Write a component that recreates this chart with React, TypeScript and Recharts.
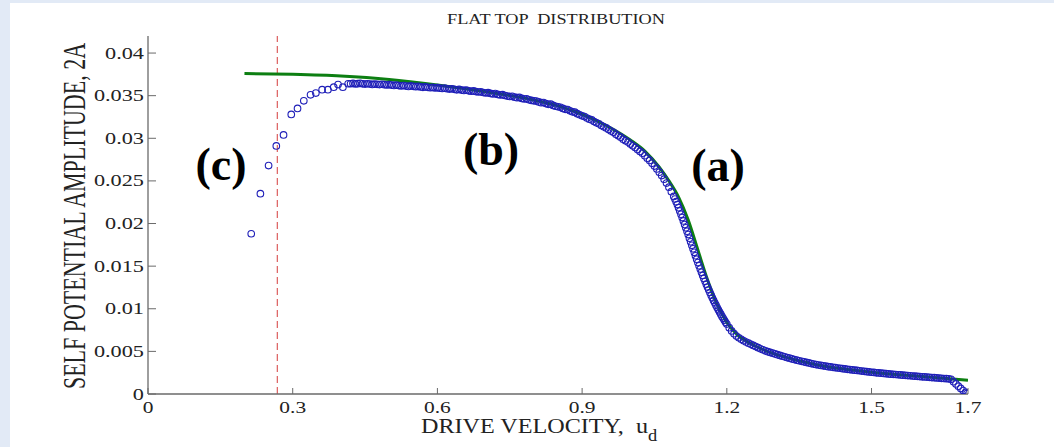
import React from 'react';
import { ComposedChart, XAxis, YAxis, Scatter, Line, ReferenceLine } from 'recharts';

// ---------- data ----------
const xTicks = [0, 0.3, 0.6, 0.9, 1.2, 1.5, 1.7];
const yTicks = [0, 0.005, 0.01, 0.015, 0.02, 0.025, 0.03, 0.035, 0.04];
const cutoffVelocity = 0.268;

// measured self potential amplitude (open circles) [u_d, 2A]
const measuredPoints: [number, number][] = [
  [0.214, 0.0188], [0.233, 0.0235], [0.25, 0.0268], [0.266, 0.0291], [0.281, 0.0304],
  [0.297, 0.0328], [0.31, 0.0335], [0.323, 0.0344], [0.337, 0.0351], [0.348, 0.0353],
  [0.361, 0.0357], [0.373, 0.0357], [0.385, 0.036], [0.394, 0.0363], [0.404, 0.036],
  [0.415, 0.0364],
  [0.42, 0.0364], [0.425, 0.03644], [0.43, 0.03637], [0.435, 0.03641], [0.44, 0.03645],
  [0.445, 0.03639], [0.45, 0.03636], [0.455, 0.0364], [0.46, 0.03637], [0.465, 0.03632],
  [0.47, 0.03636], [0.475, 0.03633], [0.48, 0.0363], [0.485, 0.03634], [0.49, 0.03629],
  [0.495, 0.03625], [0.5, 0.03629], [0.505, 0.03624], [0.51, 0.0362], [0.515, 0.03624],
  [0.52, 0.03618], [0.525, 0.03614], [0.53, 0.03619], [0.535, 0.03613], [0.54, 0.03609],
  [0.545, 0.03614], [0.55, 0.0361], [0.555, 0.03605], [0.56, 0.03609], [0.565, 0.03603],
  [0.57, 0.03598], [0.575, 0.03603], [0.58, 0.03598], [0.585, 0.03593], [0.59, 0.03597],
  [0.595, 0.03591], [0.6, 0.03594], [0.605, 0.03588], [0.61, 0.03584], [0.615, 0.03588],
  [0.62, 0.03581], [0.625, 0.03577], [0.63, 0.03581], [0.635, 0.03574], [0.64, 0.03569],
  [0.645, 0.03573], [0.65, 0.03566], [0.655, 0.03561], [0.66, 0.03565], [0.665, 0.03557],
  [0.67, 0.03552], [0.675, 0.03556], [0.68, 0.03548], [0.685, 0.03543], [0.69, 0.03546],
  [0.695, 0.03537], [0.7, 0.03531], [0.705, 0.03535], [0.71, 0.03526], [0.715, 0.0352],
  [0.72, 0.03524], [0.725, 0.03514], [0.73, 0.03508], [0.735, 0.03512], [0.74, 0.03502],
  [0.745, 0.03495], [0.75, 0.0349], [0.755, 0.03492], [0.76, 0.03482], [0.765, 0.03476],
  [0.77, 0.03479], [0.775, 0.03468], [0.78, 0.03461], [0.785, 0.03463], [0.79, 0.03452],
  [0.795, 0.03444], [0.8, 0.0344], [0.805, 0.03437], [0.81, 0.03426], [0.815, 0.03418],
  [0.82, 0.0342], [0.825, 0.03407], [0.83, 0.03398], [0.835, 0.034], [0.84, 0.03386],
  [0.845, 0.03376], [0.85, 0.0337], [0.855, 0.03364], [0.86, 0.0335], [0.865, 0.0334],
  [0.87, 0.03338], [0.875, 0.03322], [0.88, 0.0331], [0.885, 0.03306], [0.89, 0.03289],
  [0.895, 0.03276], [0.9, 0.03264], [0.905, 0.03255], [0.91, 0.03238], [0.915, 0.03224],
  [0.92, 0.03215], [0.925, 0.03196], [0.93, 0.03181], [0.935, 0.0317], [0.94, 0.0315],
  [0.945, 0.03134], [0.95, 0.03122], [0.955, 0.03102], [0.96, 0.03085], [0.965, 0.0307],
  [0.97, 0.03048], [0.975, 0.0303], [0.98, 0.03013], [0.985, 0.0299], [0.99, 0.02972],
  [0.995, 0.02955], [1.0, 0.02932], [1.005, 0.02912], [1.01, 0.02893], [1.015, 0.02868],
  [1.02, 0.02846], [1.025, 0.02825], [1.03, 0.02795], [1.035, 0.02766], [1.04, 0.0274],
  [1.045, 0.02706], [1.05, 0.02674], [1.055, 0.0264], [1.06, 0.02602], [1.065, 0.02562],
  [1.07, 0.0252], [1.075, 0.02474], [1.08, 0.02426], [1.085, 0.02374], [1.09, 0.02318],
  [1.0925, 0.02288], [1.095, 0.02256], [1.0975, 0.02222], [1.1, 0.02186], [1.1025, 0.02148],
  [1.105, 0.0211], [1.1075, 0.0207], [1.11, 0.0203], [1.1125, 0.0199], [1.115, 0.0195],
  [1.1175, 0.0191], [1.12, 0.0187], [1.1225, 0.01828], [1.125, 0.01785], [1.1275, 0.01744],
  [1.13, 0.01703], [1.1325, 0.01662], [1.135, 0.01622], [1.1375, 0.01582], [1.14, 0.01542],
  [1.1425, 0.01504], [1.145, 0.01466], [1.1475, 0.01428], [1.15, 0.0139], [1.1525, 0.01356],
  [1.155, 0.01322], [1.1575, 0.01288], [1.16, 0.01255], [1.1625, 0.01223], [1.165, 0.01191],
  [1.1675, 0.01159], [1.17, 0.01128], [1.1725, 0.01098], [1.175, 0.0107], [1.1775, 0.01042],
  [1.18, 0.01015], [1.1825, 0.00988], [1.185, 0.00962], [1.1875, 0.00936], [1.19, 0.0091],
  [1.1925, 0.00888], [1.195, 0.00865], [1.1975, 0.00842], [1.2, 0.0082], [1.205, 0.00778],
  [1.21, 0.0074], [1.215, 0.00708], [1.22, 0.0068], [1.225, 0.0066], [1.23, 0.00642],
  [1.235, 0.00625], [1.24, 0.0061], [1.245, 0.00596], [1.25, 0.00583], [1.255, 0.0057],
  [1.26, 0.00556], [1.265, 0.00543], [1.27, 0.0053], [1.275, 0.00518], [1.28, 0.00506],
  [1.285, 0.00497], [1.29, 0.00488], [1.295, 0.00479], [1.3, 0.0047], [1.305, 0.00461],
  [1.31, 0.00453], [1.315, 0.00444], [1.32, 0.00436], [1.325, 0.00427], [1.33, 0.0042],
  [1.335, 0.00412], [1.34, 0.00405], [1.345, 0.00397], [1.35, 0.0039], [1.355, 0.00383],
  [1.36, 0.00377], [1.365, 0.0037], [1.37, 0.00364], [1.375, 0.00357], [1.38, 0.00351],
  [1.385, 0.00345], [1.39, 0.0034], [1.395, 0.00335], [1.4, 0.0033], [1.405, 0.00326],
  [1.41, 0.00321], [1.415, 0.00318], [1.42, 0.00313], [1.425, 0.00309], [1.43, 0.00305],
  [1.435, 0.00302], [1.44, 0.00297], [1.445, 0.00294], [1.45, 0.0029], [1.455, 0.00287],
  [1.46, 0.00283], [1.465, 0.0028], [1.47, 0.00276], [1.475, 0.00273], [1.48, 0.00269],
  [1.485, 0.00266], [1.49, 0.00262], [1.495, 0.00259], [1.5, 0.00255], [1.505, 0.00253],
  [1.51, 0.00249], [1.515, 0.00247], [1.52, 0.00244], [1.525, 0.00241], [1.53, 0.00239],
  [1.535, 0.00236], [1.54, 0.00233], [1.545, 0.00231], [1.55, 0.00229], [1.555, 0.00226],
  [1.56, 0.00224], [1.565, 0.00221], [1.57, 0.00219], [1.575, 0.00216], [1.58, 0.00214],
  [1.585, 0.00211], [1.59, 0.00209], [1.595, 0.00207], [1.6, 0.00205], [1.605, 0.00202],
  [1.61, 0.002], [1.615, 0.00198], [1.62, 0.00196], [1.625, 0.00193], [1.63, 0.00191],
  [1.635, 0.00189], [1.64, 0.00187], [1.645, 0.00184], [1.65, 0.00182], [1.655, 0.0018],
  [1.66, 0.00178], [1.665, 0.00172], [1.67, 0.00145], [1.675, 0.00118], [1.68, 0.00092],
  [1.685, 0.00065], [1.69, 0.0004], [1.695, 0.00018], [1.698, 0.00006],
];

// theoretical fit (green curve) [u_d, 2A]
const theoryPoints: [number, number][] = [
  [0.2, 0.0376], [0.3, 0.0375], [0.4, 0.0373], [0.5, 0.0369], [0.6, 0.03625],
  [0.7, 0.03545], [0.8, 0.0345], [0.85, 0.0338], [0.9, 0.0328], [0.95, 0.0315],
  [1.0, 0.0298], [1.03, 0.0285], [1.06, 0.0266], [1.08, 0.0250], [1.1, 0.0231],
  [1.12, 0.0204], [1.14, 0.0169], [1.16, 0.0134], [1.18, 0.0105], [1.2, 0.0084],
  [1.22, 0.00705], [1.25, 0.0059], [1.28, 0.0051], [1.32, 0.00435], [1.36, 0.00375],
  [1.4, 0.00328], [1.45, 0.00288], [1.5, 0.00256], [1.55, 0.0023], [1.6, 0.00207],
  [1.65, 0.00185], [1.7, 0.0016],
];

const measuredData = measuredPoints.map(([x, y]) => ({ x, y }));
const theoryData = theoryPoints.map(([x, y]) => ({ x, y }));

// ---------- layout ----------
const W = 1054;
const H = 447;
const PLOT_LEFT = 148;
const PLOT_BOTTOM = 394;
const SERIF = '"Liberation Serif", "Times New Roman", serif';
const TEXT = '#222';
const AXIS = '#6a6a6a';

const fmt = (v: number) => String(Number(v.toFixed(4)));

const YTick = (props: any) => {
  const { y, payload } = props;
  return (
    <g>
      <line x1={PLOT_LEFT} x2={PLOT_LEFT + 8} y1={y} y2={y} stroke={AXIS} strokeWidth={1} />
      <text
        transform={`translate(${PLOT_LEFT - 4},${y + 5.5}) scale(1.35,1)`}
        textAnchor="end"
        fontFamily={SERIF}
        fontSize={16.5}
        fill={TEXT}
      >
        {fmt(payload.value)}
      </text>
    </g>
  );
};

const XTick = (props: any) => {
  const { x, payload } = props;
  return (
    <g>
      <line x1={x} x2={x} y1={PLOT_BOTTOM} y2={PLOT_BOTTOM - 6} stroke={AXIS} strokeWidth={1} />
      <text
        transform={`translate(${x},${PLOT_BOTTOM + 19}) scale(1.3,1)`}
        textAnchor="middle"
        fontFamily={SERIF}
        fontSize={16.5}
        fill={TEXT}
      >
        {fmt(payload.value)}
      </text>
    </g>
  );
};

const Circle = (props: any) => {
  const { cx, cy } = props;
  if (cx == null || cy == null) return null;
  return <circle cx={cx} cy={cy} r={3.3} fill="none" stroke="#1f1fb8" strokeWidth={1.1} />;
};

export default function App() {
  return (
    <div
      style={{
        position: 'fixed',
        left: 0,
        top: 0,
        width: W,
        height: H,
        background: '#e2eaf6',
        overflow: 'hidden',
      }}
    >
      <div style={{ position: 'absolute', left: 10, top: 3, width: W - 10, height: H - 3, background: '#ffffff' }} />
      <div style={{ position: 'absolute', left: 0, top: 0 }}>
        <ComposedChart width={W} height={H} margin={{ top: 36, right: 86, bottom: 0, left: 0 }}>
          <XAxis
            dataKey="x"
            type="number"
            domain={[0, 1.7]}
            ticks={xTicks}
            allowDataOverflow
            height={53}
            tickLine={false}
            tickSize={0}
            tick={<XTick />}
            axisLine={{ stroke: AXIS, strokeWidth: 1.3 }}
            interval={0}
          />
          <YAxis
            dataKey="y"
            type="number"
            domain={[0, 0.042]}
            ticks={yTicks}
            allowDataOverflow
            width={148}
            tickLine={false}
            tickSize={0}
            tick={<YTick />}
            axisLine={{ stroke: AXIS, strokeWidth: 1.3 }}
            interval={0}
          />
          <ReferenceLine x={cutoffVelocity} stroke="#d43c3c" strokeWidth={1} strokeDasharray="7 4" />
          <Scatter data={measuredData} dataKey="y" shape={<Circle />} isAnimationActive={false} />
          <Line
            data={theoryData}
            dataKey="y"
            type="monotone"
            stroke="#0d7f12"
            strokeWidth={3}
            dot={false}
            activeDot={false}
            isAnimationActive={false}
          />
        </ComposedChart>
      </div>
      <svg
        width={W}
        height={H}
        style={{ position: 'absolute', left: 0, top: 0, pointerEvents: 'none' }}
      >
        <text
          x={556}
          y={24}
          textAnchor="middle"
          fontFamily={SERIF}
          fontSize={15}
          fill={TEXT}
          textLength={218}
          lengthAdjust="spacingAndGlyphs"
          style={{ whiteSpace: 'pre' }}
        >
          FLAT TOP  DISTRIBUTION
        </text>
        <text
          transform="translate(85,216) scale(1.4,1) rotate(-90)"
          textAnchor="middle"
          fontFamily={SERIF}
          fontSize={22}
          fill={TEXT}
        >
          SELF POTENTIAL AMPLITUDE, 2A
        </text>
        <text
          transform="translate(421,433) scale(1.15,1)"
          textAnchor="start"
          fontFamily={SERIF}
          fontSize={21}
          fill={TEXT}
          style={{ whiteSpace: 'pre' }}
        >
          {'DRIVE VELOCITY,  u'}
          <tspan dy={8} fontSize={16}>d</tspan>
        </text>
        <text x={221} y={180} textAnchor="middle" fontFamily={SERIF} fontWeight="bold" fontSize={46} fill="#000">
          (c)
        </text>
        <text x={491} y={165} textAnchor="middle" fontFamily={SERIF} fontWeight="bold" fontSize={46} fill="#000">
          (b)
        </text>
        <text x={718} y={181} textAnchor="middle" fontFamily={SERIF} fontWeight="bold" fontSize={46} fill="#000">
          (a)
        </text>
      </svg>
    </div>
  );
}
